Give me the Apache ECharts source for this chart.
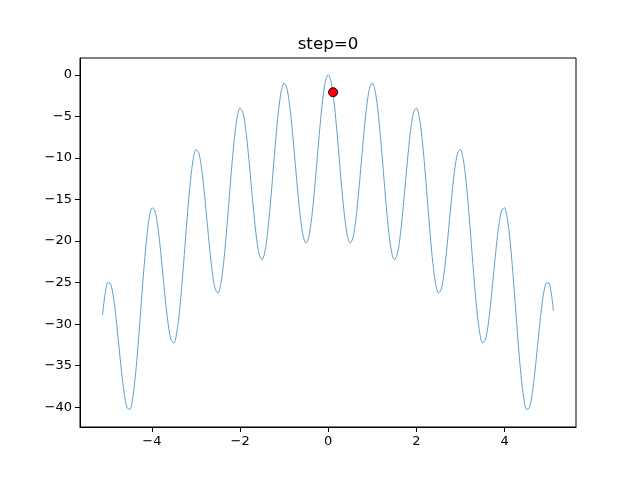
<!DOCTYPE html>
<html>
<head>
<meta charset="utf-8">
<script src="https://cdn.jsdelivr.net/npm/echarts@6/dist/echarts.min.js"></script>
<style>html,body{margin:0;padding:0;background:#fff}#c{width:640px;height:480px}</style>
</head>
<body>
<div id="c"></div>
<script>
// curve samples (x, y)
var xs = [
-5.12,-5.0625,-5,-4.9375,-4.875,-4.8125,-4.75,-4.6875,-4.625,-4.5625,-4.5,-4.4375,-4.375,-4.3125,-4.25,-4.1875,-4.125,-4.0625,
-4,-3.9375,-3.875,-3.8125,-3.75,-3.6875,-3.625,-3.5625,-3.5,-3.4375,-3.375,-3.3125,-3.25,-3.1875,-3.125,-3.0625,
-3,-2.9375,-2.875,-2.8125,-2.75,-2.6875,-2.625,-2.5625,-2.5,-2.4375,-2.375,-2.3125,-2.25,-2.1875,-2.125,-2.0625,
-2,-1.9375,-1.875,-1.8125,-1.75,-1.6875,-1.625,-1.5625,-1.5,-1.4375,-1.375,-1.3125,-1.25,-1.1875,-1.125,-1.0625,
-1,-0.9375,-0.875,-0.8125,-0.75,-0.6875,-0.625,-0.5625,-0.5,-0.4375,-0.375,-0.3125,-0.25,-0.1875,-0.125,-0.0625,
0,0.0625,0.125,0.1875,0.25,0.3125,0.375,0.4375,0.5,0.5625,0.625,0.6875,0.75,0.8125,0.875,0.9375,
1,1.0625,1.125,1.1875,1.25,1.3125,1.375,1.4375,1.5,1.5625,1.625,1.6875,1.75,1.8125,1.875,1.9375,
2,2.0625,2.125,2.1875,2.25,2.3125,2.375,2.4375,2.5,2.5625,2.625,2.6875,2.75,2.8125,2.875,2.9375,
3,3.0625,3.125,3.1875,3.25,3.3125,3.375,3.4375,3.5,3.5625,3.625,3.6875,3.75,3.8125,3.875,3.9375,
4,4.0625,4.125,4.1875,4.25,4.3125,4.375,4.4375,4.5,4.5625,4.625,4.6875,4.75,4.8125,4.875,4.9375,
5,5.0625,5.11
];
var ys = [
-28.90,-26.39,-25,-25.14,-26.69,-29.33,-32.56,-35.80,-38.46,-40.06,-40.25,-38.93,-36.21,-32.43,-28.06,-23.71,-19.94,-17.27,
-16,-16.27,-17.94,-20.71,-24.06,-27.43,-30.21,-31.93,-32.25,-31.06,-28.46,-24.80,-20.56,-16.33,-12.69,-10.14,
-9,-9.39,-11.19,-14.08,-17.56,-21.05,-23.96,-25.81,-26.25,-25.18,-22.71,-19.18,-15.06,-10.96,-7.44,-5.02,
-4,-4.52,-6.44,-9.46,-13.06,-16.68,-19.71,-21.68,-22.25,-21.31,-18.96,-15.55,-11.56,-7.58,-4.19,-1.89,
-1,-1.64,-3.69,-6.83,-10.56,-14.30,-17.46,-19.56,-20.25,-19.43,-17.21,-13.93,-10.06,-6.21,-2.95,-0.77,
0,-0.77,-2.95,-6.21,-10.06,-13.93,-17.21,-19.43,-20.25,-19.56,-17.46,-14.30,-10.56,-6.83,-3.69,-1.64,
-1,-1.89,-4.19,-7.58,-11.56,-15.55,-18.96,-21.31,-22.25,-21.68,-19.71,-16.68,-13.06,-9.46,-6.44,-4.52,
-4,-5.02,-7.44,-10.96,-15.06,-19.18,-22.71,-25.18,-26.25,-25.81,-23.96,-21.05,-17.56,-14.08,-11.19,-9.39,
-9,-10.14,-12.69,-16.33,-20.56,-24.80,-28.46,-31.06,-32.25,-31.93,-30.21,-27.43,-24.06,-20.71,-17.94,-16.27,
-16,-17.27,-19.94,-23.71,-28.06,-32.43,-36.21,-38.93,-40.25,-40.06,-38.46,-35.80,-32.56,-29.33,-26.69,-25.14,
-25,-26.39,-28.40
];
var pointX = [0.11];
var pointY = [-2.1];
var xTicks = [-4, -2, 0, 2, 4];
var yTicks = [-40, -35, -30, -25, -20, -15, -10, -5, 0];
var titleText = 'step=0';

var curve = xs.map(function (x, i) { return [x, ys[i]]; });
var pts = pointX.map(function (x, i) { return [x, pointY[i]]; });
function fmt(v) { return String(v).replace('-', '\u2212'); }
var font = 'DejaVu Sans';

var chart = echarts.init(document.getElementById('c'), null, { renderer: 'canvas' });
chart.setOption({
  animation: false,
  backgroundColor: '#fff',
  graphic: [{
    type: 'text', x: 328, y: 36, silent: true,
    style: { text: titleText, fill: '#000', font: '16.7px "DejaVu Sans"', align: 'center', verticalAlign: 'top' }
  }],
  grid: { left: 80, right: 64, top: 58, bottom: 53, show: true, borderColor: '#000', borderWidth: 1, containLabel: false },
  xAxis: {
    type: 'value', min: -5.6315, max: 5.6215,
    splitLine: { show: false },
    axisLine: { show: true, onZero: false, lineStyle: { color: '#000', width: 1 } },
    axisTick: { show: true, length: 5, customValues: xTicks, lineStyle: { color: '#000', width: 1 } },
    axisLabel: { customValues: xTicks, margin: 8, color: '#000', fontFamily: font, fontSize: 13, formatter: fmt }
  },
  yAxis: {
    type: 'value', min: -42.37, max: 2.02,
    splitLine: { show: false },
    axisLine: { show: true, onZero: false, lineStyle: { color: '#000', width: 1 } },
    axisTick: { show: true, length: 5, customValues: yTicks, lineStyle: { color: '#000', width: 1 } },
    axisLabel: { customValues: yTicks, margin: 8, color: '#000', fontFamily: font, fontSize: 13, formatter: fmt }
  },
  series: [
    {
      type: 'line', data: curve, smooth: 0.3, showSymbol: false, symbol: 'none',
      lineStyle: { color: '#1f77b4', width: 0.7 }, silent: true, z: 2
    },
    {
      type: 'scatter', data: pts, symbol: 'circle', symbolSize: 9,
      itemStyle: { color: '#ff0000', borderColor: '#000', borderWidth: 1, opacity: 1 }, z: 3
    }
  ]
});
</script>
</body>
</html>
